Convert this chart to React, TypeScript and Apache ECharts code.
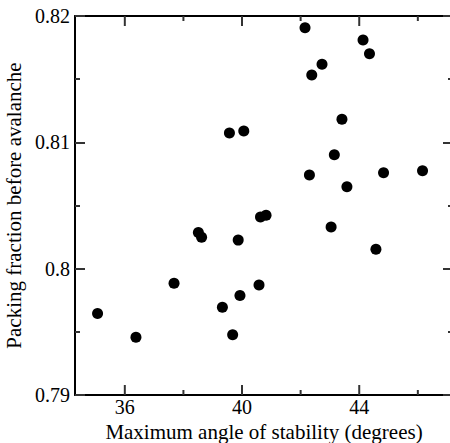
import React, { useEffect, useRef } from "react";
import * as echarts from "echarts";

const angles = [
  35.07, 36.38, 37.68, 38.51, 38.62, 39.33, 39.57, 39.68, 39.87, 39.93, 40.06,
  40.63, 40.82, 40.58, 42.15, 42.3, 42.38, 42.73, 43.04, 43.15, 43.41, 43.58,
  44.13, 44.35, 44.57, 44.83, 46.16,
];
const packing = [
  0.79646, 0.79458, 0.79884, 0.80287, 0.80248, 0.79694, 0.81074, 0.79477,
  0.80226, 0.79787, 0.81089, 0.80409, 0.80422, 0.7987, 0.81907, 0.80741,
  0.81533, 0.81618, 0.80329, 0.80902, 0.81182, 0.80648, 0.8181, 0.81702,
  0.80153, 0.80759, 0.80775,
];

const xMajorTicks = [36, 40, 44];
const xMinorTicks = [38, 42, 46];
const yMajorTicks = [0.79, 0.8, 0.81, 0.82];
const yTickLabels = ["0.79", "0.8", "0.81", "0.82"];

const xRange = [34.3, 47.2];
const yRange = [0.79, 0.82];

const xTitle = "Maximum angle of stability (degrees)";
const yTitle = "Packing fraction before avalanche";

const FONT = "Liberation Serif";
const TICK_COLOR = "#333333";

function tickSeries(values: number[], yAt: number, len: number) {
  return {
    type: "custom",
    coordinateSystem: "cartesian2d",
    xAxisIndex: 0,
    yAxisIndex: 0,
    clip: false,
    silent: true,
    z: 10,
    data: values.map((v) => [v, yAt]),
    renderItem: (_p: any, api: any) => {
      const pt = api.coord([api.value(0), api.value(1)]);
      return {
        type: "line",
        shape: { x1: pt[0], y1: pt[1], x2: pt[0], y2: pt[1] + len },
        style: { stroke: TICK_COLOR, lineWidth: 2, fill: null },
      };
    },
  };
}

export default function App() {
  const ref = useRef<HTMLDivElement>(null);
  useEffect(() => {
    if (!ref.current) return;
    const chart = echarts.init(ref.current, null, { renderer: "svg" });
    const lineStyle = { color: "#000", width: 2 };
    const tickStyle = { color: TICK_COLOR, width: 2 };
    chart.setOption({
      animation: false,
      backgroundColor: "#fff",
      grid: {
        left: 75,
        right: -3,
        top: 16,
        bottom: 48,
        outerBoundsMode: "none",
        containLabel: false,
      },
      xAxis: [
        {
          type: "value",
          position: "bottom",
          min: xRange[0],
          max: xRange[1],
          splitLine: { show: false },
          axisLine: { show: true, onZero: false, lineStyle },
          axisTick: { show: false },
          name: xTitle,
          nameLocation: "middle",
          nameGap: 22,
          nameTextStyle: { fontFamily: FONT, fontSize: 21, color: "#000" },
          axisLabel: {
            show: true,
            customValues: xMajorTicks,
            fontFamily: FONT,
            fontSize: 20,
            color: "#000",
            margin: 2,
          },
        },
        {
          type: "value",
          position: "top",
          min: xRange[0],
          max: xRange[1],
          splitLine: { show: false },
          axisLine: { show: true, onZero: false, lineStyle },
          axisTick: { show: false },
          axisLabel: { show: false },
        },
      ],
      yAxis: [
        {
          type: "value",
          position: "left",
          min: yRange[0],
          max: yRange[1],
          interval: 0.01,
          splitLine: { show: false },
          axisLine: { show: true, onZero: false, lineStyle },
          axisTick: { show: true, inside: true, length: 10, lineStyle: tickStyle },
          minorTick: { show: true, splitNumber: 2, length: 5, lineStyle: tickStyle },
          minorSplitLine: { show: false },
          name: yTitle,
          nameLocation: "middle",
          nameGap: 46,
          nameTextStyle: { fontFamily: FONT, fontSize: 21, color: "#000" },
          axisLabel: {
            show: true,
            fontFamily: FONT,
            fontSize: 20,
            color: "#000",
            margin: 5,
            formatter: (v: number) => {
              let best = 0;
              yMajorTicks.forEach((t, i) => {
                if (Math.abs(t - v) < Math.abs(yMajorTicks[best] - v)) best = i;
              });
              return yTickLabels[best];
            },
          },
        },
        {
          type: "value",
          position: "right",
          min: yRange[0],
          max: yRange[1],
          interval: 0.01,
          splitLine: { show: false },
          axisLine: { show: true, onZero: false, lineStyle },
          axisTick: { show: true, inside: true, length: 10, lineStyle: tickStyle },
          minorTick: { show: true, splitNumber: 2, length: 5, lineStyle: tickStyle },
          axisLabel: { show: false },
        },
      ],
      series: [
        {
          type: "scatter",
          xAxisIndex: 0,
          yAxisIndex: 0,
          symbol: "circle",
          symbolSize: 11,
          itemStyle: { color: "#000", opacity: 1 },
          data: angles.map((a, i) => [a, packing[i]]),
        },
        tickSeries(xMajorTicks, yRange[0], -10),
        tickSeries(xMinorTicks, yRange[0], -5),
        tickSeries(xMajorTicks, yRange[1], 10),
        tickSeries(xMinorTicks, yRange[1], 5),
      ],
    });
    return () => chart.dispose();
  }, []);
  return (
    <div
      ref={ref}
      style={{ position: "fixed", left: 0, top: 0, width: 450, height: 443 }}
    />
  );
}
